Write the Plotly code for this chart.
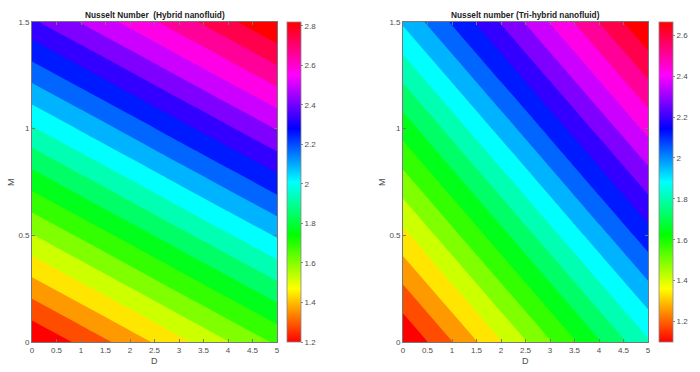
import plotly.graph_objects as go

# ---- data ----
D_vals = [0, 1, 2, 3, 4, 5]
M_vals = [0.0, 0.5, 1.0, 1.5]

# Nusselt number (Hybrid nanofluid), rows = M, cols = D
nu_hybrid = [
    [1.200, 1.295, 1.390, 1.486, 1.581, 1.676],
    [1.581, 1.676, 1.771, 1.867, 1.962, 2.057],
    [1.962, 2.057, 2.152, 2.248, 2.343, 2.438],
    [2.343, 2.438, 2.533, 2.629, 2.724, 2.819],
]
# Nusselt number (Tri-hybrid nanofluid)
nu_trihybrid = [
    [1.100, 1.247, 1.394, 1.541, 1.688, 1.835],
    [1.377, 1.524, 1.671, 1.818, 1.965, 2.112],
    [1.653, 1.800, 1.947, 2.094, 2.241, 2.388],
    [1.930, 2.077, 2.224, 2.371, 2.518, 2.665],
]

x_tickvals = [0, 0.5, 1, 1.5, 2, 2.5, 3, 3.5, 4, 4.5, 5]
x_ticktext = ["0", "0.5", "1", "1.5", "2", "2.5", "3", "3.5", "4", "4.5", "5"]
y_tickvals = [0, 0.5, 1, 1.5]
y_ticktext = ["0", "0.5", "1", "1.5"]
cb1_ticks = [1.2, 1.4, 1.6, 1.8, 2.0, 2.2, 2.4, 2.6, 2.8]
cb2_ticks = [1.2, 1.4, 1.6, 1.8, 2.0, 2.2, 2.4, 2.6]
titles = ["Nusselt Number  (Hybrid nanofluid)", "Nusselt number (Tri-hybrid nanofluid)"]
n_levels = 20

# MATLAB-like hsv colormap
hsv = [
    [0.0, "rgb(255,0,0)"],
    [1/6, "rgb(255,255,0)"],
    [2/6, "rgb(0,255,0)"],
    [3/6, "rgb(0,255,255)"],
    [4/6, "rgb(0,0,255)"],
    [5/6, "rgb(255,0,255)"],
    [1.0, "rgb(255,0,0)"],
]

W, H = 700, 372
FONT = "Liberation Sans, Arial, sans-serif"
TICKCOL = "#4d4d4d"

def px_x(p):
    return p / W

def px_y(p):
    return (H - p) / H

plot_top, plot_bot = 22, 342
panels = [
    dict(z=nu_hybrid, x0=32, x1=277, cbx=287, ticks=cb1_ticks, xa="x", ya="y"),
    dict(z=nu_trihybrid, x0=403, x1=648, cbx=659, ticks=cb2_ticks, xa="x2", ya="y2"),
]

fig = go.Figure()
for i, p in enumerate(panels):
    zflat = [v for row in p["z"] for v in row]
    zmin, zmax = min(zflat), max(zflat)
    step = (zmax - zmin) / (n_levels + 1)
    fig.add_trace(go.Contour(
        x=D_vals, y=M_vals, z=p["z"],
        colorscale=hsv, zmin=zmin, zmax=zmax,
        contours=dict(start=zmin + step, end=zmax - step + 1e-9, size=step, coloring="fill"),
        line=dict(width=0, smoothing=0),
        showscale=False, xaxis=p["xa"], yaxis=p["ya"], hoverinfo="skip",
    ))
    # continuous colorbar
    fig.add_trace(go.Scatter(
        x=[None], y=[None], mode="markers", xaxis=p["xa"], yaxis=p["ya"],
        marker=dict(
            color=[zmin], colorscale=hsv, cmin=zmin, cmax=zmax, showscale=True,
            colorbar=dict(
                x=px_x(p["cbx"]), xanchor="left", xpad=0, ypad=0,
                y=px_y(plot_bot), yanchor="bottom",
                lenmode="pixels", len=plot_bot - plot_top,
                thickness=14, outlinewidth=0.8, outlinecolor="#888",
                tickvals=p["ticks"], ticktext=[f"{t:g}" for t in p["ticks"]],
                ticks="outside", ticklen=2, tickcolor="#888",
                tickfont=dict(family=FONT, size=8, color=TICKCOL),
            ),
        ),
        showlegend=False, hoverinfo="skip",
    ))

axis_common = dict(
    showgrid=False, zeroline=False, showline=True, linecolor="#777", linewidth=0.8,
    mirror="ticks", ticks="inside", ticklen=3, tickcolor="#777",
    tickfont=dict(family=FONT, size=8, color=TICKCOL), automargin=False,
)

fig.update_layout(
    width=W, height=H, margin=dict(l=0, r=0, t=0, b=0, autoexpand=False),
    paper_bgcolor="white", plot_bgcolor="white", showlegend=False,
    xaxis=dict(domain=[px_x(32), px_x(277)], range=[0, 5], anchor="y",
               tickvals=x_tickvals, ticktext=x_ticktext, **axis_common),
    yaxis=dict(domain=[px_y(plot_bot), px_y(plot_top)], range=[0, 1.5], anchor="x",
               tickvals=y_tickvals, ticktext=y_ticktext, **axis_common),
    xaxis2=dict(domain=[px_x(403), px_x(648)], range=[0, 5], anchor="y2",
                tickvals=x_tickvals, ticktext=x_ticktext, **axis_common),
    yaxis2=dict(domain=[px_y(plot_bot), px_y(plot_top)], range=[0, 1.5], anchor="x2",
                tickvals=y_tickvals, ticktext=y_ticktext, **axis_common),
)

annots = []
for i, p in enumerate(panels):
    cx = (p["x0"] + p["x1"]) / 2
    annots.append(dict(text="<b>" + titles[i] + "</b>", x=px_x(cx), y=px_y(15),
                       xref="paper", yref="paper", showarrow=False,
                       xanchor="center", yanchor="middle",
                       font=dict(family=FONT, size=8.3, color="#222")))
    annots.append(dict(text="D", x=px_x(cx), y=px_y(361), xref="paper", yref="paper",
                       showarrow=False, xanchor="center", yanchor="middle",
                       font=dict(family=FONT, size=9, color=TICKCOL)))
    annots.append(dict(text="M", x=px_x(p["x0"] - 21), y=px_y((plot_top + plot_bot) / 2),
                       xref="paper", yref="paper", showarrow=False, textangle=-90,
                       xanchor="center", yanchor="middle",
                       font=dict(family=FONT, size=9, color=TICKCOL)))
fig.update_layout(annotations=annots)

fig.write_html(
    "out.html",
    config={"displayModeBar": False},
    post_script="document.body.style.margin='0';document.body.style.overflow='hidden';",
)
